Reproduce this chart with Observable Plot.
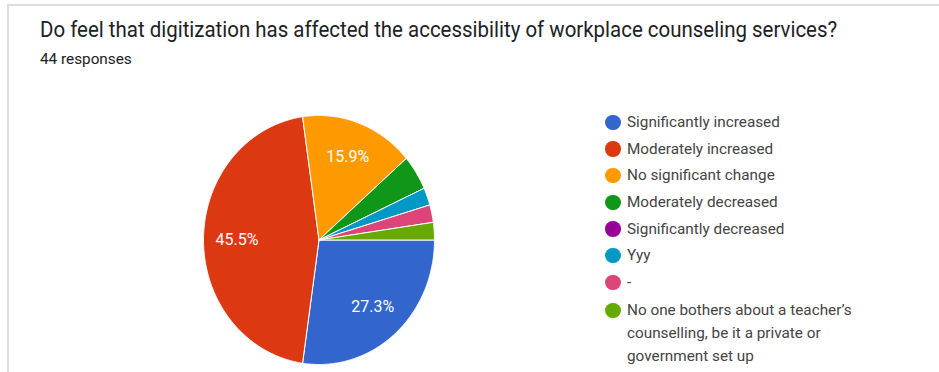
<!DOCTYPE html>
<html>
<head>
<meta charset="utf-8">
<script src="https://cdn.jsdelivr.net/npm/d3@7"></script>
<script src="https://cdn.jsdelivr.net/npm/@observablehq/plot@0.6"></script>
<style>
  html, body { margin: 0; padding: 0; background: #fff; }
  body { width: 939px; height: 372px; overflow: hidden; font-family: Roboto, "Noto Sans", sans-serif; }
  #frame { position: relative; width: 939px; height: 372px; }
  #border { position: absolute; left: 7px; top: 4px; right: -10px; bottom: -10px; border-left: 2px solid #dcdcdc; border-top: 2px solid #dcdcdc; }
  #title { position: absolute; left: 40px; top: 17px; font-size: 22px; color: #202124; white-space: nowrap; transform: scaleX(0.93); transform-origin: 0 0; }
  #subtitle { position: absolute; left: 40px; top: 50px; font-size: 15.3px; color: #202124; }
  #chart { position: absolute; left: 0; top: 75px; }
  #legend { position: absolute; left: 605px; top: 112px; font-size: 15.3px; color: #444; }
  .row { position: relative; padding-left: 22px; margin-bottom: 6.7px; line-height: 20px; width: 236px; }
  .row .sw { position: absolute; left: 0; top: 2.5px; width: 15.5px; height: 15.5px; border-radius: 50%; }
  .row.multi { line-height: 23px; top: 0px; }
  .row.multi .sw { top: 4px; }
</style>
</head>
<body>
<div id="frame">
  <div id="border"></div>
  <div id="title">Do feel that digitization has affected the accessibility of workplace counseling services?</div>
  <div id="subtitle">44 responses</div>
  <div id="chart"></div>
  <div id="legend"></div>
</div>
<script>
const categories = [
  "Significantly increased",
  "Moderately increased",
  "No significant change",
  "Moderately decreased",
  "Significantly decreased",
  "Yyy",
  "-",
  "No one bothers about a teacher\u2019s counselling, be it a private or government set up"
];
const counts = [12, 20, 7, 2, 0, 1, 1, 1];
const palette = ["#3366cc", "#dc3912", "#ff9900", "#109618", "#990099", "#0099c6", "#dd4477", "#66aa00"];

const total = d3.sum(counts);
const data = categories.map((c, i) => ({cat: c, value: counts[i]}));
const arcs = d3.pie().value(d => d.value).sort(null)
  .startAngle(Math.PI / 2).endAngle(Math.PI / 2 + 2 * Math.PI)(data);

// polygon outline of each slice in unit-circle coordinates
const pts = [];
arcs.filter(a => a.data.value > 0).forEach(a => {
  pts.push({cat: a.data.cat, x: 0, y: 0});
  const n = Math.max(2, Math.ceil((a.endAngle - a.startAngle) / (Math.PI / 360)));
  for (let k = 0; k <= n; k++) {
    const t = a.startAngle + (a.endAngle - a.startAngle) * k / n;
    pts.push({cat: a.data.cat, x: Math.sin(t), y: Math.cos(t)});
  }
  pts.push({cat: a.data.cat, x: 0, y: 0});
});

const labels = arcs.filter(a => a.data.value / total > 0.05).map(a => {
  const m = (a.startAngle + a.endAngle) / 2;
  return {x: 0.71 * Math.sin(m), y: 0.71 * Math.cos(m), text: (100 * a.data.value / total).toFixed(1) + "%"};
});

const cx = 318.5, cy = 164.5, rx = 115.5, ry = 124.5;
const chart = Plot.plot({
  width: 600,
  height: 297,
  margin: 0,
  x: {domain: [-1, 1], range: [cx - rx, cx + rx], axis: null},
  y: {domain: [-1, 1], range: [cy + ry, cy - ry], axis: null},
  color: {domain: categories, range: palette},
  style: {fontFamily: "Roboto, 'Noto Sans', sans-serif", background: "transparent", overflow: "visible"},
  marks: [
    categories.filter((c, i) => counts[i] > 0).map(c =>
      Plot.line(pts.filter(p => p.cat === c), {
        x: "x", y: "y", fill: palette[categories.indexOf(c)], stroke: "white", strokeWidth: 1, curve: "linear"
      })
    ),
    Plot.text(labels, {x: "x", y: "y", text: "text", fill: "white", fontSize: 16})
  ]
});
document.getElementById("chart").appendChild(chart);

const legend = document.getElementById("legend");
categories.forEach((c, i) => {
  const row = document.createElement("div");
  row.className = "row" + (c.length > 40 ? " multi" : "");
  const sw = document.createElement("span");
  sw.className = "sw";
  sw.style.background = palette[i];
  row.appendChild(sw);
  row.appendChild(document.createTextNode(c));
  legend.appendChild(row);
});
</script>
</body>
</html>
